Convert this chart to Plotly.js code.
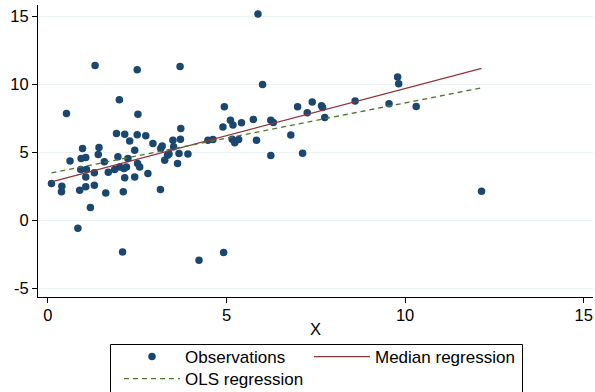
<!DOCTYPE html>
<html>
<head>
<meta charset="utf-8">
<script src="https://cdn.plot.ly/plotly-3.0.1.min.js"></script>
<style>html,body{margin:0;padding:0;background:#fff;}#chart{width:595px;height:392px;}</style>
</head>
<body>
<div id="chart"></div>
<script>
// Observations
const obsX = [0.10,0.39,0.38,0.52,0.62,0.84,0.89,0.92,0.97,0.93,1.06,1.08,1.06,1.06,1.19,1.30,1.30,1.32,1.43,1.41,
  1.58,1.62,1.69,1.87,1.96,1.92,2.00,2.01,2.13,2.20,2.15,2.11,2.15,2.24,2.29,2.43,2.50,2.50,2.52,2.51,
  2.57,2.43,2.09,2.74,2.80,2.94,3.16,3.20,3.15,3.27,3.35,3.39,3.50,3.52,3.63,3.67,3.71,3.72,3.70,3.92,
  4.23,4.48,4.62,4.94,4.90,4.92,5.11,5.18,5.16,5.23,5.34,5.42,5.75,5.84,5.88,6.01,6.24,6.24,6.31,6.80,
  6.99,7.13,7.26,7.40,7.66,7.69,7.75,8.60,9.55,9.79,9.82,10.31,12.14];
const obsY = [2.71,2.51,2.09,7.87,4.37,-0.59,2.21,3.74,5.29,4.55,4.62,3.74,3.19,2.46,0.94,3.49,2.58,11.41,5.36,4.85,
  4.30,2.01,3.54,3.74,4.67,6.39,8.87,3.93,3.81,3.93,3.12,2.09,6.34,4.55,5.83,5.16,6.29,11.08,7.80,4.18,
  3.93,3.19,-2.34,6.22,3.44,5.66,5.29,5.46,2.26,4.42,4.79,4.87,5.90,5.41,4.18,4.92,5.97,6.76,11.33,4.87,
  -2.95,5.90,5.95,8.36,6.86,-2.38,7.37,7.01,5.97,5.70,5.95,7.18,7.43,5.90,15.19,10.01,4.77,7.37,7.20,6.27,
  8.36,4.94,7.91,8.72,8.44,8.31,7.57,8.78,8.58,10.55,10.05,8.38,2.14];
// Fitted lines (endpoints at min / max X)
const medX = [0.10, 12.14];
const medY = [2.83, 11.19];
const olsX = [0.10, 12.14];
const olsY = [3.49, 9.76];
const xTicks = [0, 5, 10, 15];
const yTicks = [-5, 0, 5, 10, 15];

const FONT = 'Liberation Sans, Arial, Helvetica, sans-serif';
const W = 595, H = 392;
const M = {l: 38, r: 2, t: 5, b: 95};
const plotW = W - M.l - M.r, plotH = H - M.t - M.b;
// pixel helpers for legend placement (container) and legend frame (paper)
const cx = px => px / W, cy = py => 1 - py / H;
const pxp = px => (px - M.l) / plotW, pyp = py => (H - M.b - py) / plotH;

const traces = [
  {x: obsX, y: obsY, type: 'scatter', mode: 'markers', name: 'Observations', legend: 'legend',
   marker: {color: '#1a476f', size: 7.5}},
  {x: medX, y: medY, type: 'scatter', mode: 'lines', name: 'Median regression', legend: 'legend2',
   line: {color: '#90353b', width: 1.3}},
  {x: olsX, y: olsY, type: 'scatter', mode: 'lines', name: 'OLS regression', legend: 'legend3',
   line: {color: '#55752f', width: 1.3, dash: '5px,4px'}}
];

const legBase = {
  orientation: 'h', xref: 'container', yref: 'container', xanchor: 'left', yanchor: 'middle',
  borderwidth: 0, bgcolor: 'rgba(0,0,0,0)', font: {family: FONT, size: 17}, itemwidth: 56
};

const layout = {
  width: W, height: H,
  margin: M,
  paper_bgcolor: '#fff', plot_bgcolor: '#fff',
  font: {family: FONT, size: 16.5, color: '#000'},
  showlegend: true,
  xaxis: {
    range: [-0.277, 15.26], tickvals: xTicks, ticktext: xTicks.map(String),
    showgrid: false, zeroline: false, showline: true, linecolor: '#000', linewidth: 1,
    ticks: 'outside', ticklen: 5, tickcolor: '#000', tickwidth: 1, ticklabelstandoff: -2,
    title: {text: 'X', font: {size: 16.5}, standoff: 0},
    automargin: false
  },
  yaxis: {
    range: [-5.66, 15.86], tickvals: yTicks, ticktext: yTicks.map(String),
    showgrid: true, gridcolor: '#eaf2f3', gridwidth: 1, zeroline: false,
    showline: true, linecolor: '#000', linewidth: 1,
    ticks: 'outside', ticklen: 5, tickcolor: '#000', tickwidth: 1,
    automargin: false
  },
  legend: Object.assign({}, legBase, {x: cx(119), y: cy(357)}),
  legend2: Object.assign({}, legBase, {x: cx(309), y: cy(357)}),
  legend3: Object.assign({}, legBase, {x: cx(119), y: cy(379)}),
  shapes: [{
    type: 'rect', xref: 'paper', yref: 'paper', layer: 'above',
    x0: pxp(110.5), x1: pxp(522.5), y0: pyp(344.5), y1: pyp(400),
    line: {color: '#000', width: 1}, fillcolor: 'rgba(0,0,0,0)'
  }]
};

Plotly.newPlot('chart', traces, layout, {staticPlot: true});
</script>
</body>
</html>
